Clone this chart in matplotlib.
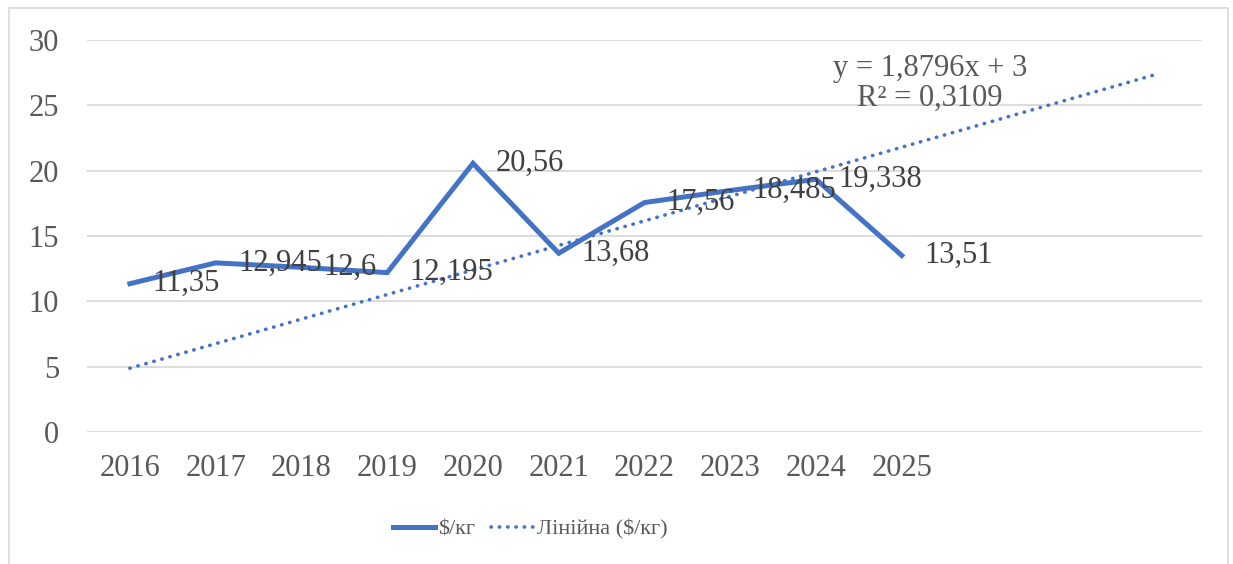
import numpy as np
import matplotlib
matplotlib.use('Agg')
import matplotlib.pyplot as plt
from matplotlib.patches import Rectangle

plt.rcParams['font.family'] = ['Liberation Serif', 'DejaVu Serif']

years = ['2016', '2017', '2018', '2019', '2020', '2021', '2022', '2023', '2024', '2025']
prices = [11.35, 12.945, 12.6, 12.195, 20.56, 13.68, 17.56, 18.485, 19.338, 13.51]
price_labels = ['11,35', '12,945', '12,6', '12,195', '20,56', '13,68', '17,56', '18,485', '19,338', '13,51']
forecast_periods = 3
trend_intercept = 3

blue = '#4472C4'
grey_text = '#595959'
label_text = '#404040'


def main():
	x = np.arange(1, len(prices) + 1)
	y = np.array(prices)
	# linear trend with intercept fixed at 3, like the Excel trendline
	slope = np.sum(x * (y - trend_intercept)) / np.sum(x * x)
	xt = np.arange(1, len(prices) + forecast_periods + 1)
	yt = slope * xt + trend_intercept
	r2 = np.corrcoef(x, y)[0, 1] ** 2

	fig = plt.figure(figsize=(12.33, 5.64), dpi=100)
	ax = fig.add_axes([87 / 1233, 1 - 432 / 564, (1202 - 87) / 1233, (432 - 40) / 564])

	a1, = ax.plot(x, y, '-', color=blue, linewidth=3.6, solid_joinstyle='miter', label='$/кг', zorder=3)
	a2, = ax.plot(xt, yt, color=blue, linewidth=2.6, linestyle=(0, (0.1, 2.2)),
				  dash_capstyle='round', label='Лінійна ($/кг)', zorder=2)

	for xi, yi, lab in zip(x, y, price_labels):
		ax.annotate(lab, (xi, yi), xytext=(16, 0), textcoords='offset points',
					ha='left', va='center', fontsize=22, color=label_text, zorder=4)

	eq = 'y = %sx + %d' % (('%.4f' % slope).replace('.', ','), trend_intercept)
	ax.text(10.33, 26.7, eq + '\nR² = ' + ('%.4f' % r2).replace('.', ','),
			ha='center', va='center', multialignment='center', fontsize=22,
			color=grey_text, linespacing=1.05)

	ax.set_xlim(0.5, len(xt) + 0.5)
	ax.set_ylim(0, 30)
	ax.set_yticks(range(0, 31, 5))
	ax.set_xticks(xt)
	ax.set_xticklabels(years + [''] * forecast_periods)
	ax.grid(axis='y', color='#d9d9d9', linewidth=1.3)
	ax.set_axisbelow(True)
	for s in ax.spines.values():
		s.set_visible(False)
	ax.tick_params(axis='both', length=0, labelsize=22, colors=grey_text)
	ax.tick_params(axis='y', pad=20)
	ax.tick_params(axis='x', pad=16)

	fig.legend(handles=[a1, a2], loc='center', bbox_to_anchor=(530 / 1233, 1 - 529 / 564),
			   ncol=2, frameon=False, fontsize=16, handlelength=1.9, handletextpad=0.15,
			   columnspacing=0.7, labelcolor=grey_text)

	fig.patches.append(Rectangle((9 / 1233, -0.05), (1228 - 9) / 1233, 1.05 - 8 / 564,
								 transform=fig.transFigure, fill=False,
								 edgecolor='#d9d9d9', linewidth=1.2))

	fig.savefig('out.png', dpi=100)


if __name__ == "__main__":
	main()
